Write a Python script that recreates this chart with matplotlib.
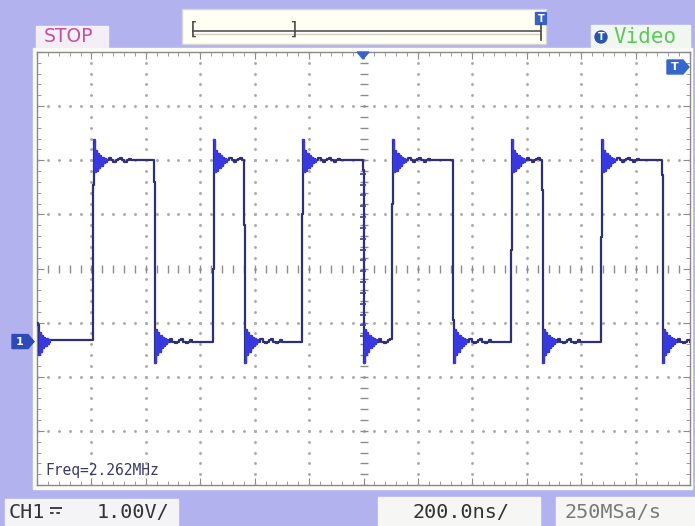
import matplotlib.pyplot as plt
import matplotlib.patches as mpatches
import numpy as np

# Oscilloscope capture: CH1 square wave, 200 ns/div, 1 V/div
# edge times in ns (screen centre = 0), first edge is rising
edge_times = [-995, -770, -553, -439, -226, -2, 105, 329, 542, 656, 873, 1097]
# intermediate sample level seen on each edge (V)
edge_mid = [2.89, 2.95, 1.35, 2.15, 2.35, 3.17, 2.55, 0.40, 1.69, 2.80, 1.93, 3.08]
low_v = 0.0
high_v = 3.35
ch1_offset = -1.35      # divisions, position of the ground marker
volts_div = 1.0

# ringing after each edge (V, one value per 4 ns sample)
ring_rise = [0.37, -0.22, 0.18, -0.20, 0.12, -0.15, 0.08, -0.10, 0.05, -0.06, 0.03, -0.03]
ring_fall = [-0.40, 0.22, -0.25, 0.16, -0.20, 0.10, -0.12, 0.07, -0.08, 0.04, -0.04, 0.02]
# small bumps on the plateau after the ringing (V, one per 8 ns)
bumps = [0.0, 0.04, 0.0, -0.03, 0.0, 0.03, 0.04, 0.0, -0.03, 0.0, 0.03, 0.0]

freq_text = "Freq=2.262MHz"
ch_name = "CH1"
ch_scale = "1.00V/"
tb_text = "200.0ns/"
sr_text = "250MSa/s"

W, H = 695, 526
fig = plt.figure(figsize=(W / 100, H / 100), dpi=100)

# --- background panel (pixel coordinates)
bg = fig.add_axes([0, 0, 1, 1], zorder=0)
bg.set_xlim(0, W)
bg.set_ylim(H, 0)
bg.axis('off')
bg.add_patch(mpatches.Rectangle((0, 0), W, H, color='#b2b3ee'))
bg.add_patch(mpatches.Rectangle((33, 48), 659, 441, color='#fbfbf7'))

# --- screen axes
x0, x1, y0, y1 = 37, 690, 52, 485
ax = fig.add_axes([x0 / W, 1 - y1 / H, (x1 - x0) / W, (y1 - y0) / H], zorder=1)
ax.set_facecolor('white')
ax.set_xlim(-1200, 1200)
ax.set_ylim(-4, 4)
for s in ax.spines.values():
    s.set_color('#8a8a8a')
    s.set_linewidth(1)
ax.set_xticks(np.arange(-1200, 1201, 200))
ax.set_xticks(np.arange(-1200, 1201, 40), minor=True)
ax.set_yticks(np.arange(-4, 4.01, 1))
ax.set_yticks(np.arange(-4, 4.01, 0.2), minor=True)
ax.tick_params(which='both', direction='in', top=True, right=True,
               labelbottom=False, labelleft=False, color='#8a8a8a')
ax.tick_params(which='major', length=5)
ax.tick_params(which='minor', length=3)

# dotted graticule
sub_x = np.arange(-1200, 1201, 40)
sub_y = np.arange(-4, 4.01, 0.2)
for gx in range(-1000, 1001, 200):
    if gx == 0:
        continue
    ax.plot(np.full_like(sub_y, gx), sub_y, ls='none', marker='.', ms=2.2,
            color='#ababab')
for gy in range(-3, 4):
    if gy == 0:
        continue
    ax.plot(sub_x, np.full_like(sub_x, gy, dtype=float), ls='none', marker='.',
            ms=2.2, color='#ababab')
# centre axes with minor ticks
ax.plot(sub_x, np.zeros_like(sub_x, dtype=float), ls='none', marker='|', ms=6,
        mew=1, color='#8c8c8c')
ax.plot(np.zeros_like(sub_y), sub_y, ls='none', marker='_', ms=6, mew=1,
        color='#8c8c8c')


def to_div(v):
    return v / volts_div + ch1_offset


# --- build the sampled trace
ts = [-1200, -1197]
vs = [low_v + 0.35, low_v + 0.3]
rings = [(-1193, low_v, ring_fall[2:])]
for k, r in enumerate(ring_fall[2:]):
    ts.append(-1193 + 4 * k)
    vs.append(low_v + r)
level = low_v
for i, (te, mid) in enumerate(zip(edge_times, edge_mid)):
    rising = i % 2 == 0
    level = high_v if rising else low_v
    ring = ring_rise if rising else ring_fall
    ts.append(te)
    vs.append(mid)
    start = te + 4
    rings.append((start, level, ring))
    for k, r in enumerate(ring):
        ts.append(start + 4 * k)
        vs.append(level + r)
    after = start + 4 * len(ring)
    nxt = edge_times[i + 1] if i + 1 < len(edge_times) else 1200
    for k, b in enumerate(bumps):
        tb = after + 8 * k
        if tb < nxt - 4:
            ts.append(tb)
            vs.append(level + b)
ts.append(1200)
vs.append(level)

ts = np.array(ts, dtype=float)
vd = to_div(np.array(vs))
ax.plot(ts, vd, drawstyle='steps-post', color='#2f2f78', lw=1.6, zorder=3)
for start, lev, ring in rings:
    rt = start + 4 * np.arange(len(ring) + 1)
    rv = to_div(lev + np.array(list(ring) + [0.0]))
    ax.plot(rt, rv, drawstyle='steps-post', color='#3838e0', lw=1.6, zorder=4)

# trigger edge samples
trig_t = edge_times[5]
trig_levels = np.arange(low_v + 0.1, high_v - 0.1, 0.2)
ax.plot(np.full_like(trig_levels, trig_t), to_div(trig_levels), ls='none',
        marker='_', ms=5, mew=1.2, color='#3a3aa0', zorder=4)

ax.text(-1168, -3.74, freq_text, fontsize=10.5, family='DejaVu Sans Mono',
        color='#3a3a66', va='center', ha='left')

# --- foreground: labels, boxes, markers
fg = fig.add_axes([0, 0, 1, 1], zorder=2)
fg.set_xlim(0, W)
fg.set_ylim(H, 0)
fg.axis('off')
fg.patch.set_alpha(0)

mono = 'DejaVu Sans Mono'

# top boxes
fg.add_patch(mpatches.Rectangle((36, 26), 72, 21, color='#f4eff7'))
fg.text(44, 37, "STOP", fontsize=13.5, color='#c4509c', va='center', ha='left')
fg.add_patch(mpatches.Rectangle((182, 9), 364, 35, facecolor='#fffff3',
                                edgecolor='#d5d5d5', lw=1))
fg.plot([193, 540], [31, 31], color='#555555', lw=1.2)
fg.plot([193, 540], [34, 34], color='#cfcfcf', lw=1)
fg.text(193, 30, "[", fontsize=13, family=mono, color='#444444',
        va='center', ha='center')
fg.text(294, 30, "]", fontsize=13, family=mono, color='#444444',
        va='center', ha='center')
fg.plot([541, 541], [24, 40], color='#444444', lw=1.2)
fg.add_patch(mpatches.FancyBboxPatch((536, 13), 10, 11, boxstyle='round,pad=0.5',
                                     color='#3a62c0'))
fg.text(541, 18.5, "T", fontsize=7, color='white', va='center', ha='center',
        weight='bold')

fg.add_patch(mpatches.Rectangle((591, 25), 99, 22, color='#f1f6f1'))
fg.add_patch(mpatches.Circle((601, 37), 6, color='#2b55a8'))
fg.text(601, 37, "T", fontsize=7, color='white', va='center', ha='center',
        weight='bold')
fg.text(613, 37, "Video", fontsize=15, family=mono, color='#5cc85c',
        va='center', ha='left')

# screen markers
fg.add_patch(mpatches.Polygon([(357, 52), (369, 52), (363, 59)], color='#3a62c8'))
fg.add_patch(mpatches.Polygon([(667, 60), (683, 60), (689, 67), (683, 74), (667, 74)],
                              color='#3466cc'))
fg.text(675, 67, "T", fontsize=8, color='white', va='center', ha='center',
        weight='bold')
gy_px = y0 + (4 - ch1_offset) / 8 * (y1 - y0)
fg.add_patch(mpatches.Polygon([(12, gy_px - 7), (28, gy_px - 7), (34, gy_px),
                               (28, gy_px + 7), (12, gy_px + 7)], color='#2c4ab8'))
fg.text(20, gy_px, "1", fontsize=8, color='white', va='center', ha='center',
        weight='bold')

# bottom boxes
fg.add_patch(mpatches.Rectangle((5, 499), 173, 27, color='#f4f4f6'))
fg.text(9, 512, ch_name, fontsize=14.5, family=mono, color='#333333',
        va='center', ha='left')
# DC coupling sign (no installed font has it): solid bar over dashed bar
fg.plot([50, 62], [508, 508], color='#333333', lw=1.3, solid_capstyle='butt')
fg.plot([50, 62], [513, 513], color='#333333', lw=1.3, ls=(0, (2, 1.5)))
fg.text(97, 512, ch_scale, fontsize=14.5, family=mono, color='#333333',
        va='center', ha='left')
fg.add_patch(mpatches.Rectangle((378, 497), 162, 29, color='#f6f6f4'))
fg.text(461, 512, tb_text, fontsize=14.5, family=mono, color='#333333',
        va='center', ha='center')
fg.add_patch(mpatches.Rectangle((556, 497), 139, 29, color='#f6f6f4'))
fg.text(564, 512, sr_text, fontsize=14.5, family=mono, color='#7a7a7a',
        va='center', ha='left')

fig.savefig('out.png', dpi=100)
